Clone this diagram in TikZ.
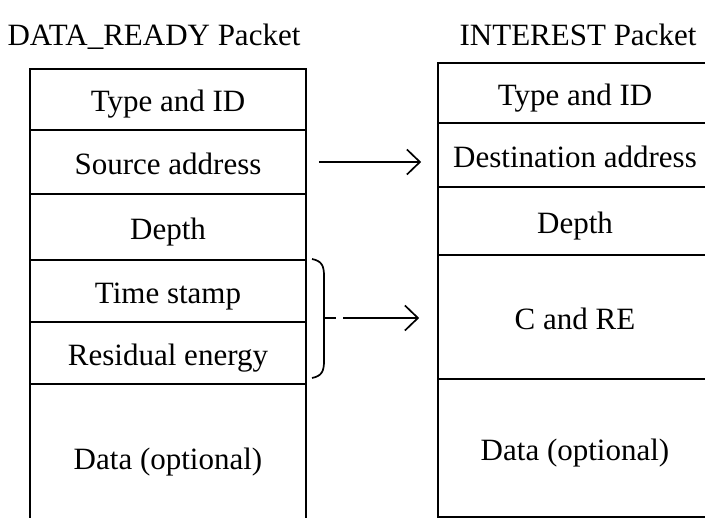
\documentclass[tikz,border=0pt]{standalone}
\usepackage{fontspec}
\setmainfont{Liberation Serif}
\usetikzlibrary{arrows.meta}
\tikzset{
  field/.style={draw, line width=1.7pt, inner sep=0pt, text height=26pt, text depth=1pt, font=\fontsize{31}{36}\selectfont},
  lfield/.style={field, minimum width=276pt},
  rfield/.style={field, minimum width=274pt},
  title/.style={inner sep=0pt, text height=26pt, text depth=1pt, font=\fontsize{31}{36}\selectfont},
  arr/.style={line width=1.7pt, -{Straight Barb[length=13pt,width=25pt,line width=1.7pt]}},
  brk/.style={line width=1.7pt}
}
\begin{document}
\begin{tikzpicture}[x=1pt,y=-1pt]
\clip (0,0) rectangle (705,518);
\fill[white] (0,0) rectangle (705,518);
\node[title] (t1) at (154,33) {DATA\_READY Packet};
\node[title] (t2) at (578,33) {INTEREST Packet};
% left packet
\node[lfield, minimum height=61pt] (l1) at (168,99.5) {Type and ID};
\node[lfield, minimum height=64pt] (l2) at (168,162) {Source address};
\node[lfield, minimum height=66pt] (l3) at (168,227) {Depth};
\node[lfield, minimum height=62pt] (l4) at (168,291) {Time stamp};
\node[lfield, minimum height=62pt] (l5) at (168,353) {Residual energy};
\node[lfield, minimum height=146pt] (l6) at (168,457) {Data (optional)};
% right packet
\node[rfield, minimum height=60pt] (r1) at (575,93) {Type and ID};
\node[rfield, minimum height=64pt] (r2) at (575,155) {Destination address};
\node[rfield, minimum height=68pt] (r3) at (575,221) {Depth};
\node[rfield, minimum height=124pt] (r4) at (575,317) {C and RE};
\node[rfield, minimum height=138pt] (r5) at (575,448) {Data (optional)};
% arrows
\coordinate (a1s) at ([xshift=12pt]l2.east);
\coordinate (a1e) at ([xshift=-16pt]l2.east -| r2.west);
\draw[arr] (a1s) -- (a1e);
% bracket
\coordinate (bt) at (336,318);
\draw[brk] (312,259) .. controls (322,261) and (324,266) .. (324,276) -- (324,361)
  .. controls (324,371) and (322,376) .. (312,378);
\draw[brk] (324,318) -- (bt);
\coordinate (a2s) at ([xshift=7pt]bt);
\coordinate (a2e) at ([xshift=-18pt]bt -| r4.west);
\draw[arr] (a2s) -- (a2e);
\end{tikzpicture}
\end{document}
